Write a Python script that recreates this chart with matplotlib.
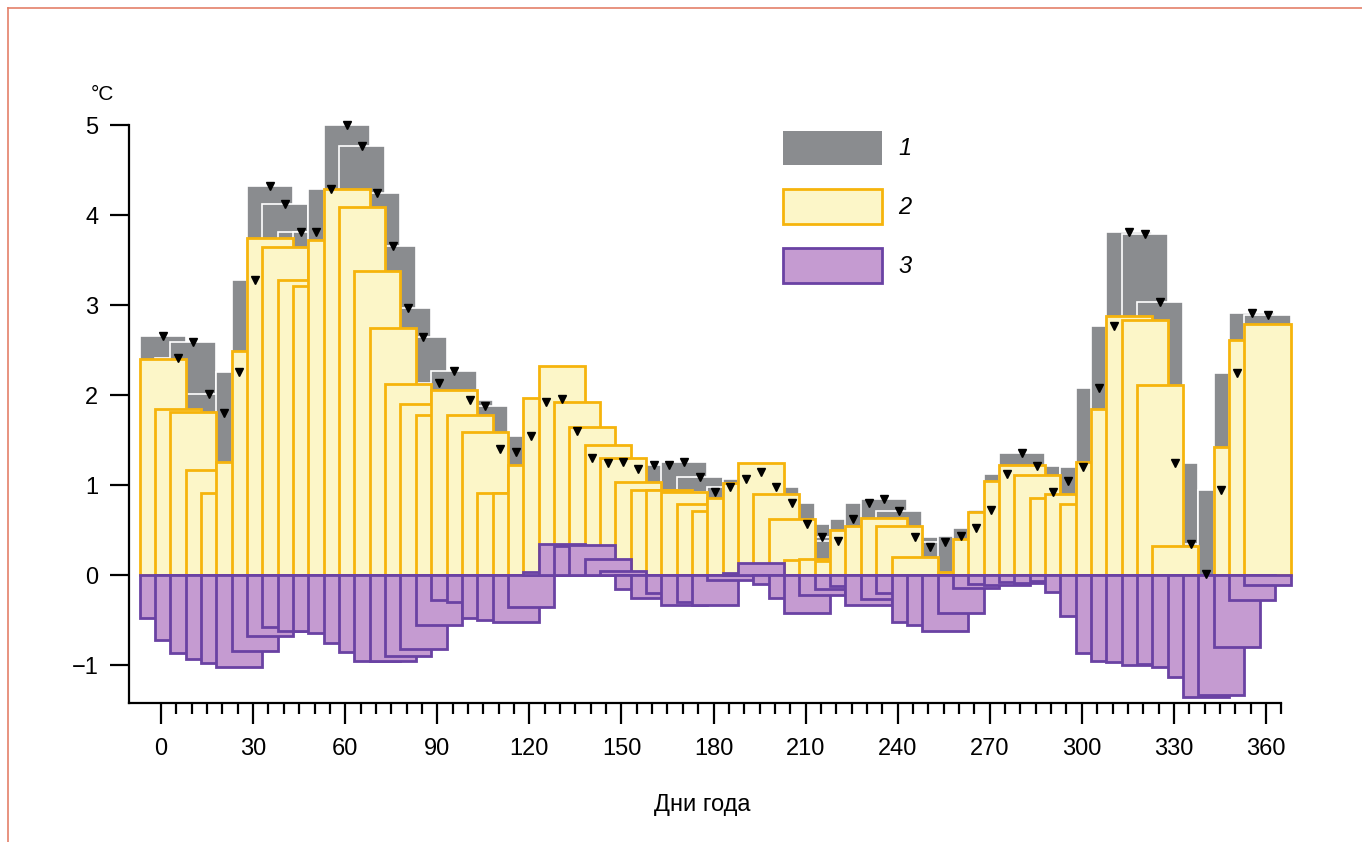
import numpy as np
import matplotlib.pyplot as plt
from matplotlib.patches import Patch
from matplotlib.lines import Line2D
from matplotlib.ticker import FixedLocator

plt.rcParams["font.family"] = ["Liberation Sans", "DejaVu Sans"]

# 73 pentads of the year, every bar covers a 15-day window around its pentad
pentad = np.arange(73)

# 1 - grey bars (values at the black markers)
series_1 = [2.66, 2.41, 2.59, 2.01, 1.80, 2.26, 3.28, 4.32, 4.12, 3.81,
            3.81, 4.29, 5.00, 4.77, 4.25, 3.66, 2.97, 2.64, 2.13, 2.27,
            1.94, 1.88, 1.40, 1.37, 1.55, 1.92, 1.96, 1.60, 1.30, 1.25,
            1.26, 1.18, 1.22, 1.22, 1.26, 1.09, 0.92, 0.98, 1.07, 1.15,
            0.98, 0.80, 0.57, 0.42, 0.38, 0.62, 0.80, 0.84, 0.71, 0.42,
            0.31, 0.37, 0.43, 0.52, 0.72, 1.12, 1.36, 1.21, 0.92, 1.05,
            1.20, 2.08, 2.77, 3.81, 3.79, 3.03, 1.24, 0.34, 0.01, 0.94,
            2.24, 2.91, 2.89]

# 2 - yellow bars
series_2 = [2.40, 1.85, 1.81, 1.17, 0.91, 1.26, 2.49, 3.75, 3.64, 3.28,
            3.21, 3.72, 4.29, 4.09, 3.38, 2.75, 2.12, 1.90, 1.78, 2.06,
            1.78, 1.59, 0.91, 0.91, 1.22, 1.97, 2.32, 1.92, 1.64, 1.44,
            1.30, 1.03, 0.94, 0.94, 0.92, 0.79, 0.71, 0.86, 1.02, 1.25,
            0.90, 0.62, 0.17, 0.18, 0.16, 0.50, 0.55, 0.63, 0.55, 0.20,
            0.00, 0.00, 0.03, 0.40, 0.70, 1.04, 1.22, 1.11, 0.86, 0.90,
            0.79, 1.26, 1.84, 2.88, 2.83, 2.11, 0.32, 0.00, 0.00, 0.00,
            1.42, 2.61, 2.79]

# 3 - purple bars
series_3 = [-0.48, -0.72, -0.87, -0.93, -0.98, -1.02, -0.84, -0.68, -0.58, -0.62,
            -0.62, -0.64, -0.75, -0.85, -0.96, -0.95, -0.90, -0.82, -0.55, -0.28,
            -0.30, -0.48, -0.50, -0.52, -0.35, 0.03, 0.35, 0.32, 0.33, 0.18,
            0.05, -0.15, -0.26, -0.20, -0.33, -0.30, -0.33, -0.05, 0.02, 0.13,
            -0.10, -0.25, -0.42, -0.22, -0.15, -0.12, -0.33, -0.27, -0.20, -0.52,
            -0.55, -0.62, -0.42, -0.14, -0.10, -0.11, -0.08, -0.09, -0.07, -0.19,
            -0.45, -0.87, -0.96, -0.97, -1.00, -0.99, -1.02, -1.13, -1.35, -1.33,
            -0.80, -0.28, -0.11]

labels = ["1", "2", "3"]
x_ticks = list(range(0, 361, 30))
x_minor = [d for d in range(5, 366, 5) if d % 30 != 0]

GREY = "#8a8c8f"
YELLOW = "#fcf6c8"
ORANGE = "#f6b40c"
PURPLE = "#c59bd1"
DPURPLE = "#6a42a3"

centers = pentad * 5 + 0.5
window = 15

fig = plt.figure(figsize=(13.62, 8.42), dpi=100)
ax = fig.add_axes([0.0946, 0.1653, 0.8687, 0.7183])

# later windows are drawn over earlier ones
ax.bar(centers, series_1, width=window, color=GREY, edgecolor="white",
       linewidth=1.2, zorder=1)
ax.bar(centers, series_2, width=window, color=YELLOW, edgecolor=ORANGE,
       linewidth=2.0, zorder=2)
ax.bar(centers, series_3, width=window, color=PURPLE, edgecolor=DPURPLE,
       linewidth=2.0, zorder=3)
ax.plot(centers, series_1, "v", color="black", ms=5.5, zorder=5)

# axes
ax.set_xlim(-10.5, 375)
ax.set_ylim(-1.42, 5.3)
for s in ["top", "right"]:
    ax.spines[s].set_visible(False)
ax.spines["left"].set_bounds(-1.42, 5)
ax.spines["bottom"].set_bounds(-10.5, 365)
for s in ["left", "bottom"]:
    ax.spines[s].set_linewidth(1.6)

ax.set_xticks(x_ticks)
ax.xaxis.set_minor_locator(FixedLocator(x_minor))
ax.set_yticks(range(-1, 6))
ax.tick_params(axis="x", which="major", length=15, width=1.6, pad=10, labelsize=17)
ax.tick_params(axis="x", which="minor", length=8, width=1.6)
ax.tick_params(axis="y", which="major", length=14, width=1.6, pad=8, labelsize=17)

ax.text(-0.022, 1.005, "°C", transform=ax.transAxes, fontsize=15,
        ha="center", va="center")
ax.text(0.485, -0.169, "Дни года", transform=ax.transAxes, fontsize=17,
        ha="center", va="center")

handles = [Patch(facecolor=GREY, edgecolor="none"),
           Patch(facecolor=YELLOW, edgecolor=ORANGE, linewidth=2.0),
           Patch(facecolor=PURPLE, edgecolor=DPURPLE, linewidth=2.0)]
ax.legend(handles, labels, loc="upper left", bbox_to_anchor=(0.566, 0.859),
          bbox_transform=fig.transFigure, frameon=False, borderpad=0,
          handlelength=4.2, handleheight=1.85, labelspacing=1.05,
          handletextpad=0.7, prop={"style": "italic", "size": 17})

# thin page frame
fig.add_artist(Line2D([0.0059, 1.0], [0.9905, 0.9905], color="#e4806a", lw=1.2))
fig.add_artist(Line2D([0.0059, 0.0059], [0.0, 0.9905], color="#e4806a", lw=1.2))

fig.savefig("out.png", dpi=100)
